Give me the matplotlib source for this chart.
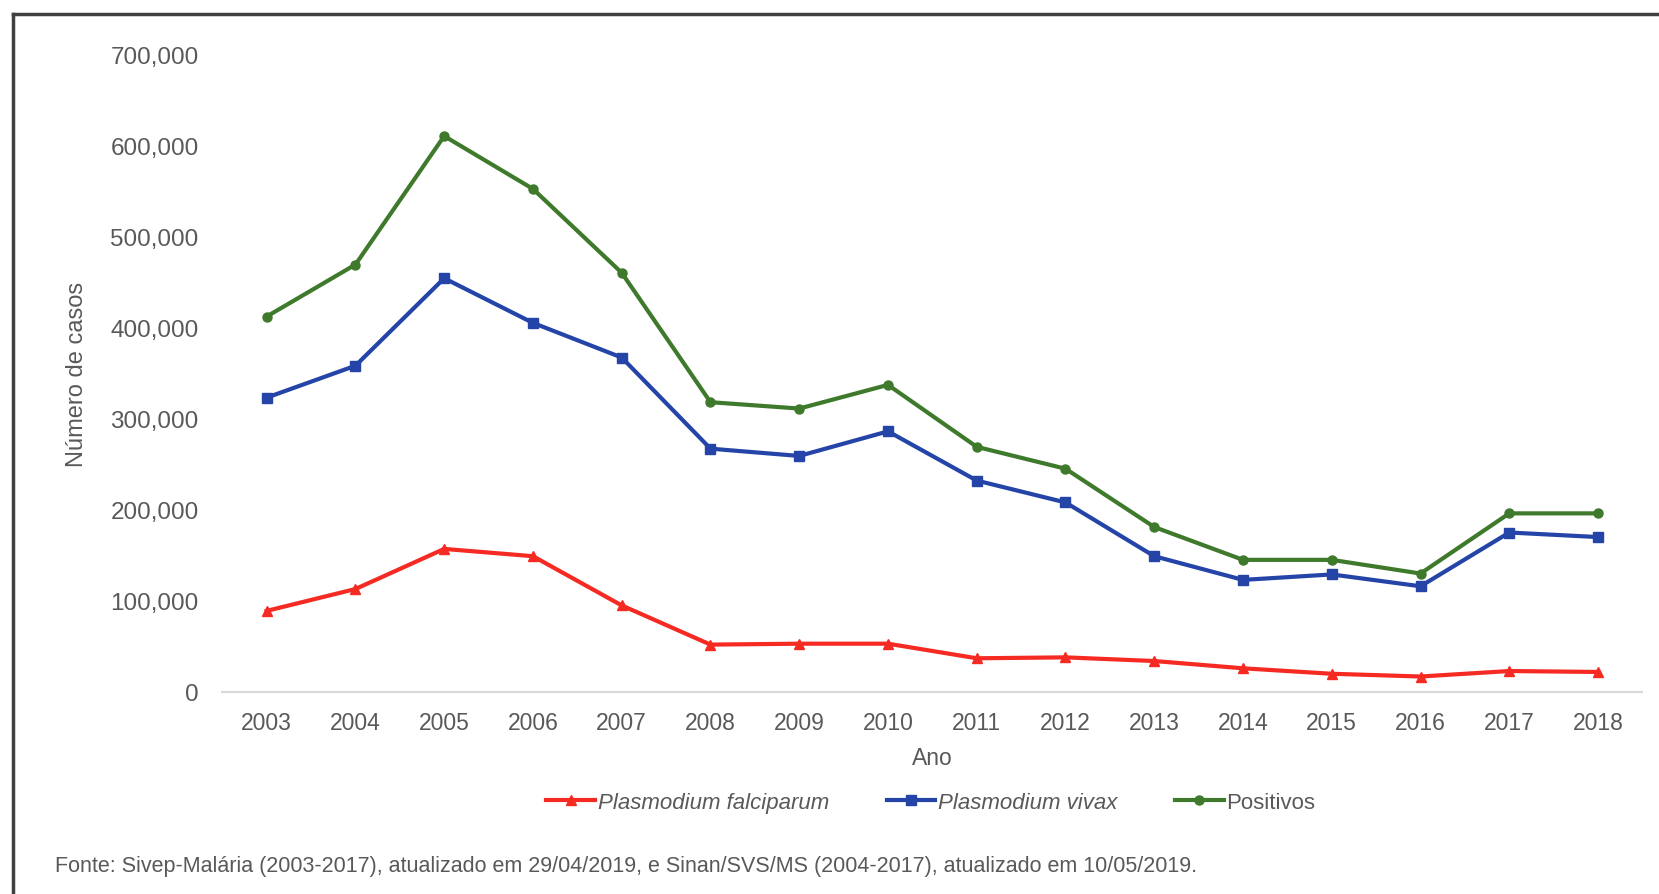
import matplotlib
matplotlib.use("Agg")
import matplotlib.pyplot as plt
from matplotlib.lines import Line2D
from matplotlib.ticker import FuncFormatter

years = list(range(2003, 2019))
falciparum = [89000, 113000, 157000, 149000, 95000, 52000, 53000, 53000,
              37000, 38000, 34000, 26000, 20000, 17000, 23000, 22000]
vivax = [323000, 358000, 454000, 405000, 367000, 267000, 259000, 286000,
         232000, 208000, 149000, 123000, 129000, 116000, 175000, 170000]
positivos = [412000, 469000, 610000, 552000, 460000, 318000, 311000, 337000,
             269000, 245000, 181000, 145000, 145000, 130000, 196000, 196000]

plt.rcParams["font.family"] = ["Liberation Sans Narrow", "Liberation Sans", "DejaVu Sans"]
grey = "#595959"

fig = plt.figure(figsize=(16.59, 8.95), dpi=100)
ax = fig.add_axes([0.134, 0.2257, 0.856, 0.7128])

ax.plot(years, falciparum, color="#f52a22", lw=3, marker="^", ms=6.5,
        label="Plasmodium falciparum")
ax.plot(years, vivax, color="#2444a8", lw=3, marker="s", ms=6.5,
        label="Plasmodium vivax")
ax.plot(years, positivos, color="#3f7a2c", lw=3, marker="o", ms=6.5,
        label="Positivos")

ax.set_xlim(2002.5, 2018.5)
ax.set_ylim(0, 700000)
ax.set_xticks(years)
ax.set_yticks(range(0, 700001, 100000))
ax.yaxis.set_major_formatter(FuncFormatter(lambda v, _: f"{int(v):,}"))
ax.tick_params(length=0, labelsize=16.5, colors=grey)
ax.tick_params(axis="y", labelsize=17.5, pad=17)
ax.tick_params(axis="x", pad=14)
for s in ("top", "right", "left"):
    ax.spines[s].set_visible(False)
ax.spines["bottom"].set_color("#d9d9d9")
ax.spines["bottom"].set_linewidth(1.5)

ax.set_xlabel("Ano", fontsize=16.5, color=grey, labelpad=8)
ax.set_ylabel("Número de casos", fontsize=17, color=grey, labelpad=16)

leg = fig.legend(loc="center", bbox_to_anchor=(0.561, 0.102), ncol=3,
                 frameon=False, fontsize=16, handlelength=2.2,
                 handletextpad=0.1, columnspacing=2.6)
for t in leg.get_texts():
    t.set_color(grey)
leg.get_texts()[0].set_style("italic")
leg.get_texts()[1].set_style("italic")

fig.text(0.033, 0.032, "Fonte: Sivep-Malária (2003-2017), atualizado em 29/04/2019, e "
         "Sinan/SVS/MS (2004-2017), atualizado em 10/05/2019.",
         fontsize=15.5, color=grey, va="center")

# outer frame
fig.add_artist(Line2D([0.008, 1.0], [0.983, 0.983], color="#404040", lw=2.5))
fig.add_artist(Line2D([0.008, 0.008], [0.0, 0.983], color="#404040", lw=2.5))

fig.savefig("out.png", dpi=100)
